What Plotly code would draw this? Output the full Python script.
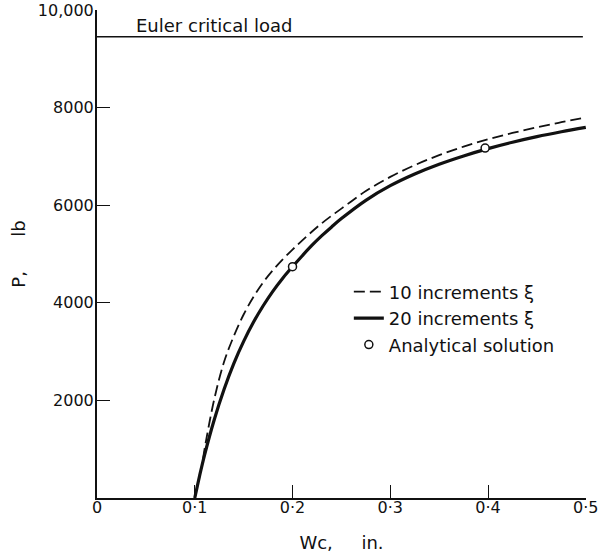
import plotly.graph_objects as go

# ---- data ----
wc_20 = [0.100, 0.105, 0.110, 0.120, 0.130, 0.140, 0.150, 0.160, 0.170, 0.180,
         0.190, 0.200, 0.210, 0.220, 0.230, 0.240, 0.250, 0.275, 0.300, 0.325,
         0.350, 0.375, 0.400, 0.425, 0.450, 0.475, 0.500]
p_20 = [0, 460, 880, 1610, 2230, 2760, 3210, 3600, 3940, 4240,
        4505, 4740, 4965, 5180, 5375, 5555, 5725, 6100, 6400, 6640,
        6840, 7010, 7160, 7290, 7405, 7505, 7595]

wc_10 = [0.1085, 0.110, 0.120, 0.130, 0.140, 0.150, 0.160, 0.170, 0.180, 0.190,
         0.200, 0.210, 0.220, 0.230, 0.240, 0.250, 0.275, 0.300, 0.325, 0.350,
         0.375, 0.400, 0.425, 0.450, 0.475, 0.500]
p_10 = [800, 1000, 2030, 2790, 3320, 3760, 4120, 4420, 4670, 4890,
        5090, 5280, 5460, 5630, 5785, 5930, 6290, 6580, 6820, 7025,
        7200, 7350, 7480, 7595, 7700, 7800]

wc_analytical = [0.200, 0.397]
p_analytical = [4740, 7170]

euler_load = 9450
euler_wc = [0.0, 0.497]

x_tickvals = [0, 0.1, 0.2, 0.3, 0.4, 0.5]
x_ticktext = ["0", "0·1", "0·2", "0·3", "0·4", "0·5"]
y_tickvals = [2000, 4000, 6000, 8000, 10000]
y_ticktext = ["2000", "4000", "6000", "8000", "10,000"]

FONT = "DejaVu Sans"
BLACK = "#111111"

fig = go.Figure()

fig.add_trace(go.Scatter(
    x=euler_wc, y=[euler_load] * len(euler_wc), mode="lines",
    line=dict(color=BLACK, width=1.5), showlegend=False, hoverinfo="skip"))

fig.add_trace(go.Scatter(
    x=wc_10, y=p_10, mode="lines", name="10 increments ξ", cliponaxis=False,
    line=dict(color=BLACK, width=1.8, dash="11px,5px", shape="spline", smoothing=1.0)))

fig.add_trace(go.Scatter(
    x=wc_20, y=p_20, mode="lines", name="20 increments ξ", cliponaxis=False,
    line=dict(color=BLACK, width=3.2, shape="spline", smoothing=1.0)))

fig.add_trace(go.Scatter(
    x=wc_analytical, y=p_analytical, mode="markers", name="Analytical solution",
    marker=dict(symbol="circle", size=8, color="white", line=dict(color=BLACK, width=1.5))))

fig.add_annotation(x=0.12, y=9690, text="Euler critical load", showarrow=False,
                   xref="x", yref="y", font=dict(family=FONT, size=18, color=BLACK))

fig.update_layout(
    width=598, height=553,
    margin=dict(l=97, r=12, t=10, b=55),
    paper_bgcolor="white", plot_bgcolor="white",
    font=dict(family=FONT, size=16, color=BLACK),
    legend=dict(x=0.515, y=0.46, xanchor="left", yanchor="top",
                bgcolor="rgba(0,0,0,0)", font=dict(family=FONT, size=18, color=BLACK),
                tracegroupgap=0),
    xaxis=dict(range=[0, 0.5002], showgrid=False, zeroline=False, automargin=False,
               showline=True, linecolor=BLACK, linewidth=2,
               ticks="inside", ticklen=13, tickwidth=1, tickcolor=BLACK,
               tickvals=x_tickvals, ticktext=x_ticktext, ticklabelstandoff=-6,
               ticklabeloverflow="allow",
               tickfont=dict(family=FONT, size=16, color=BLACK),
               title=dict(text="Wc,\u00a0\u00a0\u00a0\u00a0\u00a0in.", standoff=20,
                          font=dict(family=FONT, size=18, color=BLACK))),
    yaxis=dict(range=[0, 10000], showgrid=False, zeroline=False, automargin=False,
               showline=True, linecolor=BLACK, linewidth=2,
               ticks="inside", ticklen=13, tickwidth=1, tickcolor=BLACK,
               tickvals=y_tickvals, ticktext=y_ticktext, ticklabelstandoff=-2,
               ticklabeloverflow="allow",
               tickfont=dict(family=FONT, size=16, color=BLACK),
               title=dict(text="P,\u00a0\u00a0\u00a0\u00a0\u00a0\u00a0lb", standoff=8,
                          font=dict(family=FONT, size=18, color=BLACK))),
)

fig.write_html("out.html")
